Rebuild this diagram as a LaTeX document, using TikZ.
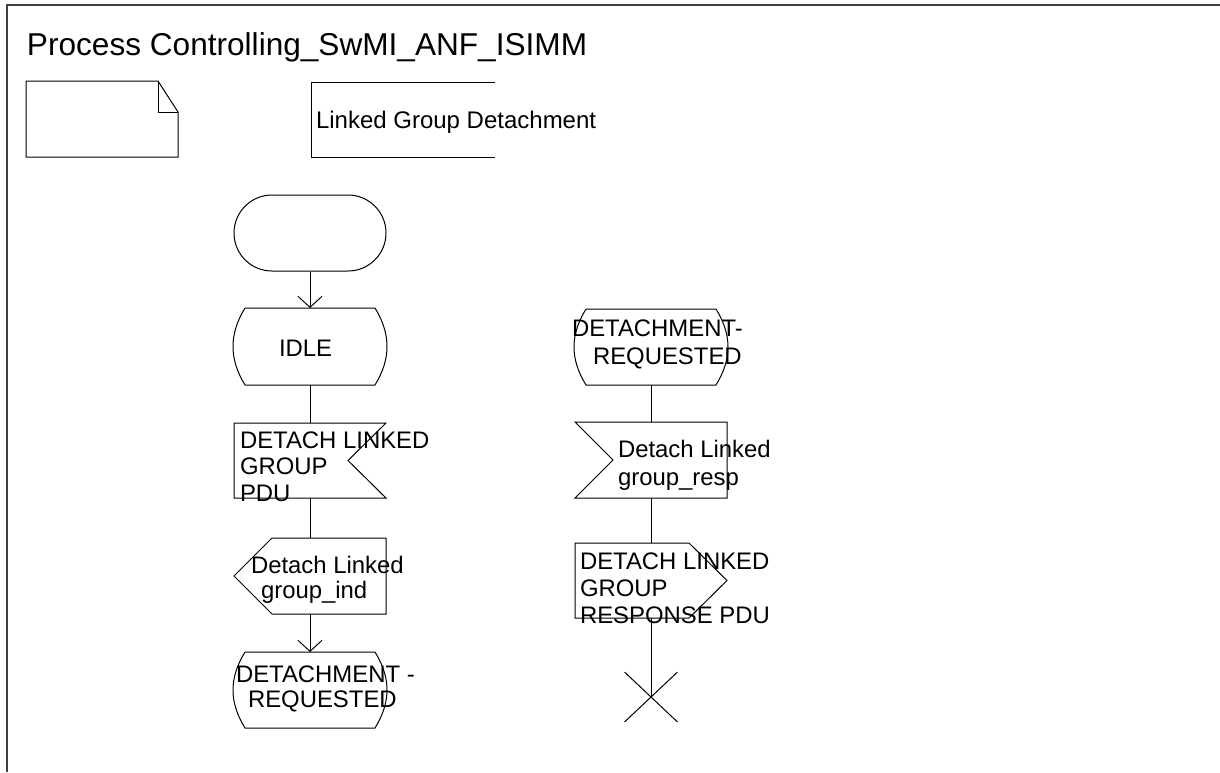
\documentclass[tikz,border=0pt]{standalone}
\usepackage{fontspec}
\setmainfont{Liberation Sans}
\usetikzlibrary{calc,arrows.meta}
\newcommand\txtlines[2]{{\fontsize{23.9}{#1}\selectfont\begin{tabular}[t]{@{}l@{}}#2\end{tabular}}}
\newcommand\drawStateSym[1]{%
  \draw[ln] ($(#1.north west)+(12,0)$) -- ($(#1.north east)+(-12,0)$)
    .. controls ($(#1.north east)+(4,26)$) and ($(#1.south east)+(4,-26)$) .. ($(#1.south east)+(-12,0)$)
    -- ($(#1.south west)+(12,0)$)
    .. controls ($(#1.south west)+(-4,-26)$) and ($(#1.north west)+(-4,26)$) .. ($(#1.north west)+(12,0)$);}
\begin{document}
\begin{tikzpicture}[x=1pt,y=-1pt,
  ln/.style={line width=1pt},
  sym/.style={draw=none, inner sep=0pt, outer sep=0pt, rectangle},
  txt/.style={anchor=base west, inner sep=0pt, outer sep=0pt},
  arr/.style={ln,-{Straight Barb[length=11pt,width=24pt]}}]
\useasboundingbox (0,0) rectangle (1220,772);
% frame
\draw[line width=1.6pt, black!75] (7,772) -- (7,5) -- (1220,5);
% title
\node[txt, font=\fontsize{31.6}{36}\selectfont] (title) at (27,55) {Process Controlling\_SwMI\_ANF\_ISIMM};
% text symbol (note)
\node[sym, minimum width=152pt, minimum height=76pt] (note) at (102,119) {};
\draw[ln] (note.north west) -- ($(note.north east)+(-20,0)$) -- ($(note.north east)+(0,31)$)
  -- (note.south east) -- (note.south west) -- cycle;
\draw[ln] ($(note.north east)+(-20,0)$) |- ($(note.north east)+(0,31)$);
% text extension
\node[sym, minimum width=184pt, minimum height=75pt] (ext) at (403,119.5) {};
\draw[ln] (ext.north east) -- (ext.north west) -- (ext.south west) -- (ext.south east);
\node[txt, font=\fontsize{24}{28}\selectfont] (extt) at (316,128) {Linked Group Detachment};
% left column
\node[draw, ln, rounded corners=38pt, minimum width=152pt, minimum height=76pt, inner sep=0pt] (start) at (310,233) {};
\node[sym, minimum width=154pt, minimum height=77pt] (idle) at (310,346.5) {};
\drawStateSym{idle}
\node[txt, font=\fontsize{23.9}{28}\selectfont] (idlet) at (279,356) {IDLE};
\node[sym, minimum width=152pt, minimum height=75pt] (in1) at (310,460.5) {};
\draw[ln] (in1.north west) -- (in1.north east) -- ($(in1.east)+(-38,0)$) -- (in1.south east) -- (in1.south west) -- cycle;
\node[txt] (in1t) at (240,448) {\txtlines{26.7}{DETACH LINKED\\GROUP\\PDU}};
\node[sym, minimum width=152pt, minimum height=76pt] (out1) at (310,576) {};
\draw[ln] ($(out1.north west)+(38,0)$) -- (out1.north east) -- (out1.south east) -- ($(out1.south west)+(38,0)$) -- (out1.west) -- cycle;
\node[txt] (out1t) at (251,573) {\txtlines{25}{Detach Linked\\\hspace*{10pt}group\_ind}};
\node[sym, minimum width=154pt, minimum height=76pt] (st2) at (310,690) {};
\drawStateSym{st2}
\node[txt] (st2t) at (236,682) {\txtlines{25.6}{DETACHMENT -\\\hspace*{12pt}REQUESTED}};
% right column
\node[sym, minimum width=154pt, minimum height=76pt] (st3) at (651,347) {};
\drawStateSym{st3}
\node[txt] (st3t) at (572,336) {\txtlines{28}{DETACHMENT-\\\hspace*{21pt}REQUESTED}};
\node[sym, minimum width=152pt, minimum height=76pt] (in2) at (651,460) {};
\draw[ln] (in2.north west) -- (in2.north east) -- (in2.south east) -- (in2.south west) -- ($(in2.west)+(38,0)$) -- cycle;
\node[txt] (in2t) at (618,457) {\txtlines{28}{Detach Linked\\group\_resp}};
\node[sym, minimum width=152pt, minimum height=75pt] (out2) at (651,580.5) {};
\draw[ln] (out2.north west) -- ($(out2.north east)+(-38,0)$) -- (out2.east) -- ($(out2.south east)+(-38,0)$) -- (out2.south west) -- cycle;
\node[txt] (out2t) at (580,569) {\txtlines{27}{DETACH LINKED\\GROUP\\RESPONSE PDU}};
\node[sym, minimum width=53pt, minimum height=50pt] (stop) at (651,697) {};
\draw[ln] (stop.north west) -- (stop.south east) (stop.north east) -- (stop.south west);
% connectors
\draw[arr] (start.south) -- (idle.north);
\draw[ln] (idle.south) -- (in1.north);
\draw[ln] (in1.south) -- (out1.north);
\draw[arr] (out1.south) -- (st2.north);
\draw[ln] (st3.south) -- (in2.north);
\draw[ln] (in2.south) -- (out2.north);
\draw[ln] (out2.south) -- (stop.center);
\end{tikzpicture}
\end{document}
